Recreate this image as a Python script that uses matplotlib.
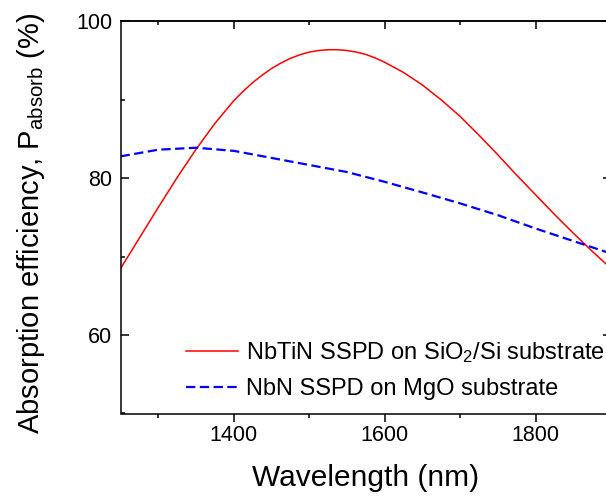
import matplotlib
matplotlib.use("Agg")
import matplotlib.pyplot as plt
from matplotlib.ticker import MultipleLocator

plt.rcParams['font.family'] = ['Liberation Sans', 'DejaVu Sans']
plt.rcParams['mathtext.fontset'] = 'custom'
plt.rcParams['mathtext.rm'] = 'Liberation Sans'
plt.rcParams['mathtext.it'] = 'Liberation Sans:italic'

# Data
wl_red = [1250, 1275, 1300, 1325, 1350, 1375, 1400, 1412.5, 1425, 1437.5, 1450,
          1462.5, 1475, 1487.5, 1500, 1512.5, 1525, 1537.5, 1550, 1562.5, 1575,
          1587.5, 1600, 1625, 1650, 1675, 1700, 1725, 1750, 1775, 1800, 1825,
          1850, 1875, 1900]
p_nbtin = [68.5, 72.4, 76.3, 80.1, 83.7, 87.0, 89.9, 91.1, 92.2, 93.15, 94.0,
           94.7, 95.3, 95.75, 96.1, 96.3, 96.4, 96.4, 96.3, 96.1, 95.8,
           95.35, 94.8, 93.5, 91.9, 90.0, 87.9, 85.5, 83.0, 80.4, 77.9, 75.4,
           73.0, 70.7, 68.5]
wl_blue = [1250, 1300, 1350, 1400, 1450, 1500, 1550, 1600, 1650, 1700, 1750,
           1800, 1850, 1900]
p_nbn = [82.8, 83.65, 83.9, 83.5, 82.6, 81.7, 80.8, 79.55, 78.2, 76.8, 75.3,
         73.6, 72.0, 70.4]

label_red = 'NbTiN SSPD on SiO$_2$/Si substrate'
label_blue = 'NbN SSPD on MgO substrate'

fig = plt.figure(figsize=(6.06, 5.01), dpi=100)
ax = fig.add_axes([120.6 / 606, 87.5 / 501, 490.4 / 606, 392 / 501])

ax.plot(wl_red, p_nbtin, color='#ff0000', lw=1.1, label=label_red)
ax.plot(wl_blue, p_nbn, color='#0000ff', lw=1.6, ls=(0, (4.2, 2.0)), label=label_blue)

ax.set_xlim(1250, 1900)
ax.set_ylim(50, 100)
ax.xaxis.set_major_locator(MultipleLocator(200))
ax.xaxis.set_minor_locator(MultipleLocator(100))
ax.yaxis.set_minor_locator(MultipleLocator(10))
ax.set_yticks([60, 80, 100])
ax.set_yticklabels(['60', '80', '100'])

for s in ax.spines.values():
    s.set_linewidth(1.1)

ax.tick_params(axis='x', which='both', direction='out', bottom=True, top=False,
               labelsize=15.5, pad=3, width=1.1)
ax.tick_params(axis='x', which='major', length=5.6)
ax.tick_params(axis='x', which='minor', length=3.2)
ax.tick_params(axis='y', which='both', direction='in', left=True, right=True,
               labelsize=15.5, pad=6, width=1.1)
ax.tick_params(axis='y', which='major', length=5.6)
ax.tick_params(axis='y', which='minor', length=3.2)

# top ticks pointing inward
secx = ax.secondary_xaxis('top')
secx.xaxis.set_major_locator(MultipleLocator(200))
secx.xaxis.set_minor_locator(MultipleLocator(100))
secx.tick_params(which='both', direction='in', labeltop=False, width=1.1)
secx.tick_params(which='major', length=5.6)
secx.tick_params(which='minor', length=3.2)
secx.spines['top'].set_linewidth(1.1)

ax.set_xlabel('Wavelength (nm)', fontsize=21.5, labelpad=13)
ax.set_ylabel('Absorption efficiency, $\\mathregular{P_{absorb}}$ (%)', fontsize=21)
ax.yaxis.set_label_coords(-0.150, 0.486)

leg = ax.legend(loc='lower right', frameon=False, fontsize=17, handlelength=2.2,
                handletextpad=0.35, labelspacing=0.55, borderpad=0.0, borderaxespad=0.0)
leg.set_bbox_to_anchor((605 / 606, (501 - 400) / 501), transform=fig.transFigure)

fig.savefig('out.png', dpi=100)
